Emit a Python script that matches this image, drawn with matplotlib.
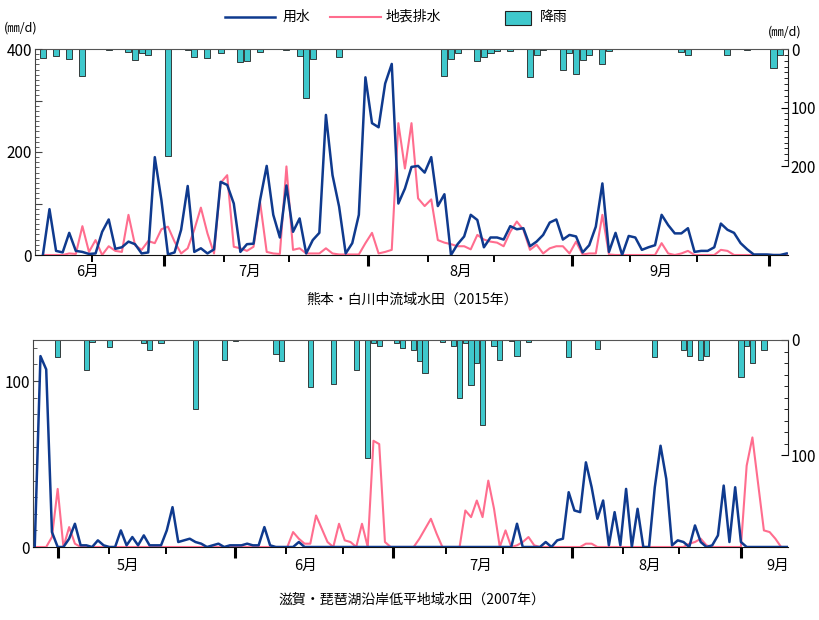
import numpy as np
import matplotlib
matplotlib.use("Agg")
import matplotlib.pyplot as plt
from matplotlib.lines import Line2D
from matplotlib.patches import Rectangle
from matplotlib.ticker import MultipleLocator, FuncFormatter

plt.rcParams['font.family'] = ['Noto Sans CJK JP', 'DejaVu Sans']

# ---- 熊本・白川 (2015), daily from 6/13 ----
kuma_use = [0, 89, 8, 5, 43, 8, 6, 2, 3, 45,
            69, 12, 15, 26, 21, 3, 5, 190, 107, 1,
            5, 49, 134, 6, 13, 3, 11, 142, 136, 100,
            6, 21, 22, 107, 173, 78, 34, 135, 45, 71,
            3, 29, 43, 272, 155, 94, 3, 23, 78, 345,
            256, 248, 333, 371, 100, 129, 171, 173, 160, 190,
            95, 118, 0, 21, 36, 78, 68, 15, 34, 34,
            30, 56, 50, 52, 17, 26, 39, 63, 69, 30,
            39, 36, 5, 19, 55, 139, 6, 43, 0, 37,
            34, 10, 15, 19, 78, 58, 42, 42, 52, 6,
            8, 8, 15, 61, 49, 43, 23, 11, 1, 1,
            1, 0, 0, 3]
kuma_drain = [0, 0, 0, 0, 3, 2, 56, 6, 29, 0,
              17, 8, 6, 78, 19, 10, 27, 23, 50, 55,
              26, 3, 13, 49, 92, 42, 3, 140, 155, 16,
              13, 8, 16, 102, 6, 3, 2, 172, 10, 13,
              3, 3, 3, 13, 3, 1, 1, 1, 1, 23,
              43, 3, 6, 10, 256, 168, 256, 110, 95, 108,
              29, 24, 21, 17, 17, 11, 39, 30, 26, 24,
              17, 45, 65, 49, 10, 20, 3, 13, 17, 17,
              3, 26, 1, 3, 3, 78, 1, 0, 0, 0,
              0, 0, 0, 0, 23, 3, 0, 3, 8, 0,
              0, 0, 0, 10, 8, 0, 0, 0, 0, 0,
              0, 0, 0, 0]
kuma_rain = [16, 0, 12, 0, 17, 0, 46, 0, 0, 0,
             1, 0, 0, 5, 19, 6, 10, 0, 0, 183,
             0, 0, 2, 13, 0, 15, 0, 6, 0, 0,
             23, 21, 0, 5, 0, 0, 0, 2, 0, 12,
             83, 17, 0, 0, 0, 14, 0, 0, 0, 0,
             0, 0, 0, 0, 0, 0, 0, 0, 0, 0,
             0, 46, 17, 6, 0, 0, 21, 13, 6, 3,
             0, 3, 0, 0, 48, 11, 1, 0, 0, 36,
             6, 42, 18, 10, 0, 25, 4, 0, 0, 0,
             0, 0, 0, 0, 0, 0, 0, 5, 10, 0,
             0, 0, 0, 0, 10, 0, 0, 1, 0, 0,
             0, 33, 11, 0]
kuma_months = ["6月", "7月", "8月", "9月"]

# ---- 滋賀・琵琶湖 (2007), daily from 4/27 ----
shiga_use = [0, 115, 107, 9, 0, 0, 5, 14, 1, 1,
             0, 4, 1, 0, 0, 10, 1, 6, 1, 7,
             1, 1, 1, 10, 24, 3, 4, 5, 3, 2,
             0, 1, 2, 0, 1, 1, 1, 2, 1, 1,
             12, 1, 0, 0, 0, 0, 3, 0, 0, 0,
             0, 0, 0, 0, 0, 0, 0, 0, 0, 0,
             0, 0, 0, 0, 0, 0, 0, 0, 0, 0,
             0, 0, 0, 0, 0, 0, 0, 0, 0, 0,
             0, 0, 0, 0, 14, 0, 0, 0, 0, 3,
             0, 4, 5, 33, 22, 21, 51, 36, 17, 28,
             1, 21, 1, 35, 0, 23, 0, 0, 36, 61,
             41, 1, 4, 3, 0, 13, 3, 0, 1, 7,
             37, 3, 36, 3, 0, 0, 0, 0, 0, 0,
             0, 0]
shiga_drain = [0, 0, 0, 6, 35, 0, 12, 2, 0, 0,
               0, 0, 0, 0, 0, 0, 0, 0, 0, 0,
               0, 0, 0, 0, 0, 0, 0, 0, 0, 0,
               0, 0, 0, 0, 0, 0, 0, 0, 0, 0,
               0, 0, 0, 0, 0, 9, 5, 2, 2, 19,
               11, 3, 0, 14, 4, 3, 0, 14, 0, 64,
               62, 3, 0, 0, 0, 0, 0, 5, 11, 17,
               8, 0, 0, 0, 0, 22, 18, 28, 18, 40,
               23, 0, 10, 0, 1, 3, 6, 1, 0, 0,
               0, 0, 0, 0, 0, 0, 2, 2, 0, 0,
               0, 0, 0, 0, 0, 0, 0, 0, 0, 0,
               0, 0, 0, 0, 2, 3, 5, 1, 0, 0,
               0, 0, 0, 0, 49, 66, 38, 10, 9, 5,
               0, 0]
shiga_rain = [0, 0, 0, 0, 15, 0, 0, 0, 0, 26,
              2, 0, 0, 6, 0, 0, 0, 0, 0, 3,
              9, 0, 3, 0, 0, 0, 0, 0, 60, 0,
              0, 0, 0, 17, 0, 1, 0, 0, 0, 0,
              0, 0, 12, 18, 0, 0, 0, 0, 41, 0,
              0, 0, 38, 0, 0, 0, 26, 0, 103, 3,
              5, 0, 0, 3, 7, 0, 9, 18, 29, 0,
              0, 2, 0, 5, 50, 3, 39, 20, 74, 0,
              5, 17, 0, 1, 14, 0, 2, 0, 0, 0,
              0, 0, 0, 15, 0, 0, 0, 0, 8, 0,
              0, 0, 0, 0, 0, 0, 0, 0, 15, 0,
              0, 0, 0, 9, 14, 0, 17, 14, 0, 0,
              0, 0, 0, 32, 5, 20, 0, 9, 0, 0,
              0, 0]
shiga_months = ["5月", "6月", "7月", "8月", "9月"]

BLUE = "#0f3a8e"
PINK = "#ff6d8e"
CYAN = "#3fc8cc"

fig = plt.figure(figsize=(8.2, 6.2), dpi=100)


def panel(rect, use, drain, rain, ymax, rmax, rticks_max, ylab_step,
          major, minor, month_pos, months, title, title_y, mlab_off):
    ax = fig.add_axes(rect)
    ax2 = ax.twinx()
    x = np.arange(len(use))

    ax2.bar(x, rain, width=0.92, color=CYAN, edgecolor="#222222", linewidth=0.6)
    ax2.set_ylim(rmax, 0)
    ax.plot(x, drain, color=PINK, lw=1.5, zorder=3)
    ax.plot(x, use, color=BLUE, lw=1.8, zorder=4)
    ax.set_ylim(0, ymax)
    ax.set_xlim(x[0] - 0.3 if len(use) > 120 else -1.2, x[-1] + 0.2)

    ax.set_zorder(ax2.get_zorder() + 1)
    ax.patch.set_visible(False)

    for s in ["top", "right"]:
        ax.spines[s].set_visible(False)
    for s in ["left", "bottom"]:
        ax2.spines[s].set_visible(False)
    ax.spines["left"].set_color("#444444")
    ax.spines["bottom"].set_color("#111111")
    ax2.spines["top"].set_color("#555555")
    ax2.spines["right"].set_color("#222222")
    ax2.spines["right"].set_bounds(0, rticks_max)

    # left axis
    ax.yaxis.set_major_locator(MultipleLocator(100))
    ax.yaxis.set_minor_locator(MultipleLocator(10))
    ax.yaxis.set_major_formatter(FuncFormatter(
        lambda v, p: f"{v:.0f}" if v % ylab_step == 0 else ""))
    ax.tick_params(axis="y", which="both", direction="in", colors="#444444",
                   labelcolor="black", labelsize=11, pad=2)
    ax.tick_params(axis="y", which="major", length=5)
    ax.tick_params(axis="y", which="minor", length=3)

    # right axis
    ax2.set_yticks(np.arange(0, rticks_max + 1, 100))
    ax2.set_yticks(np.arange(0, rticks_max + 1, 10), minor=True)
    ax2.tick_params(axis="y", which="both", direction="in", labelsize=11, pad=2)
    ax2.tick_params(axis="y", which="major", length=5)
    ax2.tick_params(axis="y", which="minor", length=3)

    # time axis
    ax.set_xticks(major)
    ax.set_xticks(minor, minor=True)
    ax.tick_params(axis="x", which="major", direction="out", length=8,
                   width=2.2, labelbottom=False)
    ax.tick_params(axis="x", which="minor", direction="out", length=5,
                   width=1.4)
    for pos, m in zip(month_pos, months):
        ax.annotate(m, xy=(pos, 0), xycoords=("data", "axes fraction"),
                    xytext=(0, -mlab_off), textcoords="offset points",
                    ha="center", va="center", fontsize=10.5)

    fig.text(0.502, title_y, title, ha="center", va="center", fontsize=10)
    return ax, ax2


panel([35 / 820, 1 - 255 / 620, 753 / 820, 206 / 620],
      kuma_use, kuma_drain, kuma_rain, 400, 352, 200, 200,
      [18.4, 49.4, 80.4, 110.3],
      [7.4, 27.5, 37.4, 58.5, 68.5, 89.2, 99.4],
      [6.8, 31.4, 63.4, 93.8], kuma_months,
      "熊本・白川中流域水田（2015年）", 1 - 300 / 620, 12)

panel([33 / 820, 1 - 547 / 620, 755 / 820, 207 / 620],
      shiga_use, shiga_drain, shiga_rain, 124.7, 180, 100, 100,
      [4.0, 34.8, 62.4, 93.6, 123.1],
      [12.9, 22.8, 43.7, 53.7, 71.7, 81.6, 102.4, 112.2],
      [16.3, 47.1, 77.6, 107.1, 129.4], shiga_months,
      "滋賀・琵琶湖沿岸低平地域水田（2007年）", 1 - 600 / 620, 13.5)

# units
fig.text(4 / 820, 1 - 28 / 620, "(㎜/d)", ha="left", va="center", fontsize=9)
fig.text(768 / 820, 1 - 32 / 620, "(㎜/d)", ha="left", va="center", fontsize=9)

# legend drawn by hand across the top
ly = 1 - 17 / 620
fig.add_artist(Line2D([225 / 820, 275 / 820], [ly, ly], color=BLUE, lw=1.8))
fig.text(283 / 820, ly, "用水", ha="left", va="center", fontsize=10)
fig.add_artist(Line2D([330 / 820, 381 / 820], [ly, ly], color=PINK, lw=1.5))
fig.text(386 / 820, ly, "地表排水", ha="left", va="center", fontsize=10)
fig.add_artist(Rectangle((505 / 820, 1 - 25 / 620), 26 / 820, 14 / 620,
                         facecolor=CYAN, edgecolor="#222222", lw=0.8,
                         transform=fig.transFigure))
fig.text(540 / 820, ly, "降雨", ha="left", va="center", fontsize=10)

fig.savefig("out.png", dpi=100)
